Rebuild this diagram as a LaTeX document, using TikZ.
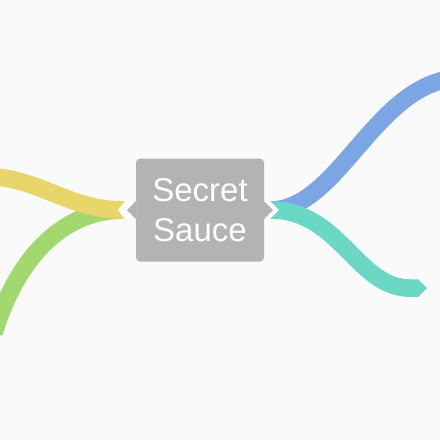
\documentclass[tikz,border=0pt]{standalone}
\usepackage{fontspec}
\setmainfont{Liberation Sans}
\usetikzlibrary{arrows.meta}

\definecolor{paper}{RGB}{250,250,250}
\definecolor{stone}{RGB}{179,179,179}
\definecolor{mustard}{RGB}{232,214,106}
\definecolor{leafgreen}{RGB}{162,216,111}
\definecolor{cornflower}{RGB}{123,166,227}
\definecolor{aqua}{RGB}{107,215,197}

\begin{document}
\begin{tikzpicture}[line width = 1pt,
                    x = 1pt,
                    y = -1pt,
                    topic/.style = {rectangle, fill = stone, rounded corners = 4pt,
                                    minimum width = 128pt, minimum height = 103pt,
                                    inner sep = 0pt, text = white, align = center,
                                    font = \fontsize{33}{40}\selectfont},
                    band/.style = {draw = #1, line width = 17.5pt, line cap = butt},
                    plain/.style = {},
                    pointed/.style = {-{Triangle Cap[]}}]

    \fill[paper] (0,0) rectangle (440,440);
    \useasboundingbox (0,0) rectangle (440,440);

    \node[topic] (sauce) at (200,210) {Secret\\Sauce};

    \coordinate (greenend)  at (-6,333);
    \coordinate (yellowend) at (-20,176);
    \coordinate (blueend)   at (462,78);
    \coordinate (tealend)   at (427,288);

    % left branches
    \foreach \j/\c/\dx/\dy in {greenend/leafgreen/25/-80,
                               yellowend/mustard/60/0}
    {
        \draw[band = \c, shorten <= 11pt] (sauce.west) .. controls +(-70,0) and +(\dx,\dy) .. (\j);
    }

    % right branches
    \foreach \j/\c/\dx/\e in {blueend/cornflower/-85/plain,
                              tealend/aqua/-70/pointed}
    {
        \draw[band = \c, shorten <= 6pt, \e] (sauce.east) .. controls +(75,0) and +(\dx,0) .. (\j);
    }

    % notches
    \fill[white] (136,201) -- (125,201) -- (118,210) -- (125,219) -- (136,219) -- cycle;
    \fill[white] (264,201) -- (270,201) -- (279,210) -- (270,219) -- (264,219) -- cycle;
    \fill[stone] (136,201) -- (127,210) -- (136,219) -- cycle;
    \fill[stone] (264,201) -- (273,210) -- (264,219) -- cycle;
\end{tikzpicture}
\end{document}
